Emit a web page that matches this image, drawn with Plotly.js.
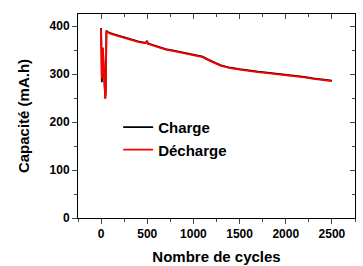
<!DOCTYPE html>
<html><head><meta charset="utf-8">
<script src="https://cdn.plot.ly/plotly-3.0.1.min.js"></script>
<style>body{margin:0;background:#fff}#c{width:363px;height:266px}</style>
</head><body><div id="c"></div>
<script>
const cycles = [0,2,5,8,12,15,20,25,30,35,40,45,50,55,58,60,80,100,150,200,250,300,400,480,500,505,520,600,700,800,900,1000,1050,1100,1150,1200,1250,1300,1350,1400,1500,1600,1700,1800,1900,2000,2100,2200,2300,2400,2450,2500];
const decharge = [395,380,330,290,300,340,355,330,300,270,255,248,260,330,390,388,386,384,381,378,375,372,367,364,368,363,362,357,351,347,343,340,338,335,330,325,321,317,314,312,309,306,304,302,300,298,296,293,290,287,286,285];
const charge = [396,382,335,283,296,338,352,328,296,266,252,250,262,332,391,389,387,385,382,379,376,373,368,365,369,364,363,358,352,348,344,341,339,336,331,326,322,318,315,313,310,307,305,303,301,299,297,294,291,288,287,286];
const xTickVals = [0,500,1000,1500,2000,2500];
const yTickVals = [0,100,200,300,400];
const legendNames = ["Charge","Décharge"];

const F = "Arial, 'Liberation Sans', sans-serif";
const data = [
  {x:cycles,y:charge,mode:'lines',name:legendNames[0],line:{color:'#000000',width:1.8}},
  {x:cycles,y:decharge,mode:'lines',name:legendNames[1],line:{color:'#ff0000',width:1.8}},
  {x:[0],y:[0],xaxis:'x2',yaxis:'y2',mode:'markers',marker:{opacity:0},showlegend:false,hoverinfo:'skip'}
];
const layout = {
  width:363,height:266,
  margin:{l:78,r:8,t:14,b:48},
  paper_bgcolor:'#fff',plot_bgcolor:'#fff',
  font:{family:F,color:'#000'},
  showlegend:true,
  legend:{x:0.145,y:0.525,xanchor:'left',yanchor:'top',bgcolor:'rgba(0,0,0,0)',font:{family:F,size:15,color:'#000',weight:'bold'},tracegroupgap:0,itemwidth:30},
  xaxis:{range:[-250,2750],tickvals:xTickVals,ticks:'outside',ticklen:5,tickwidth:1,showline:true,linecolor:'#000',linewidth:1,
    showgrid:false,zeroline:false,tickfont:{family:F,size:12,weight:'bold'},
    minor:{ticks:'outside',dtick:250,tick0:0,ticklen:3,showgrid:false},
    title:{text:'Nombre de cycles',font:{family:F,size:15,weight:'bold'},standoff:11}},
  yaxis:{range:[0,425],tickvals:yTickVals,ticks:'outside',ticklen:5,tickwidth:1,showline:true,linecolor:'#000',linewidth:1,
    showgrid:false,zeroline:false,tickfont:{family:F,size:12,weight:'bold'},
    minor:{ticks:'outside',dtick:50,tick0:0,ticklen:3,showgrid:false},
    title:{text:'Capacité (mA.h)',font:{family:F,size:15,weight:'bold'},standoff:16}},
  xaxis2:{overlaying:'x',side:'top',range:[-250,2750],tickvals:xTickVals,ticks:'inside',ticklen:5,showticklabels:false,showline:true,linecolor:'#000',linewidth:1,showgrid:false,zeroline:false,
    minor:{ticks:'inside',dtick:250,tick0:0,ticklen:3,showgrid:false}},
  yaxis2:{overlaying:'y',side:'right',range:[0,425],tickvals:yTickVals,ticks:'inside',ticklen:5,showticklabels:false,showline:true,linecolor:'#000',linewidth:1,showgrid:false,zeroline:false,
    minor:{ticks:'inside',dtick:50,tick0:0,ticklen:3,showgrid:false}}
};
Plotly.newPlot('c',data,layout,{staticPlot:true,displayModeBar:false});
</script></body></html>
